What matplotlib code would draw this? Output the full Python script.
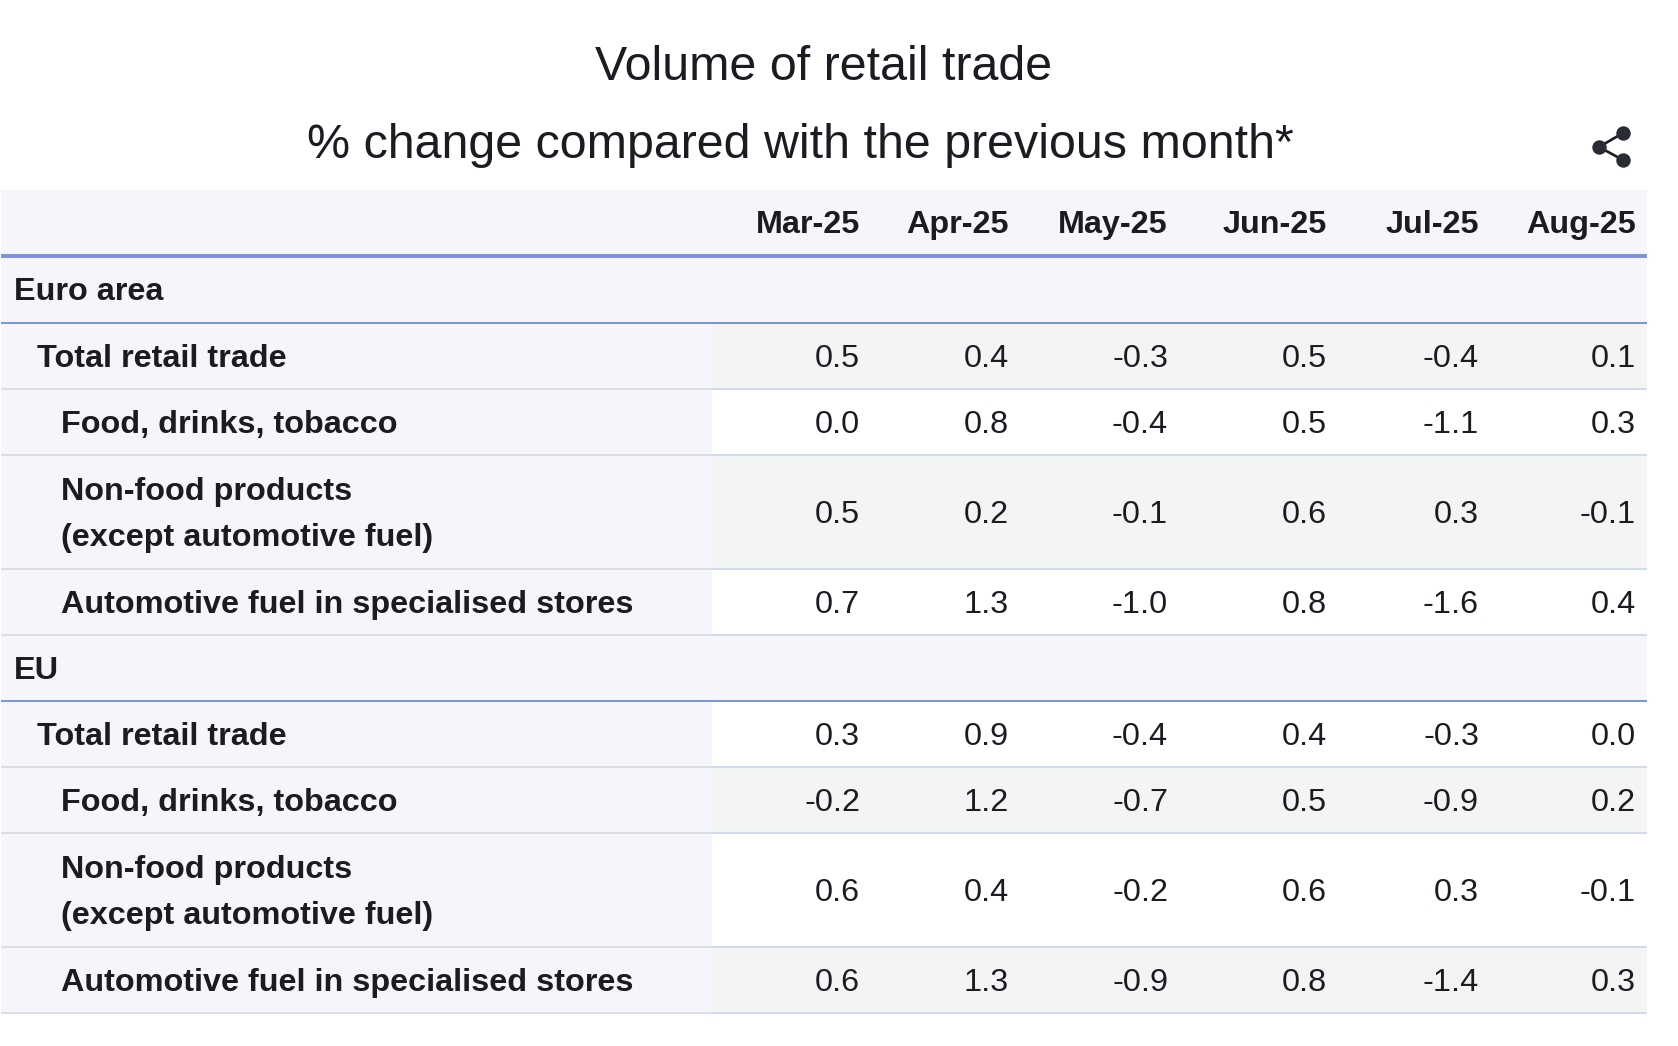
import matplotlib
matplotlib.use("Agg")
import matplotlib.pyplot as plt
from matplotlib.patches import Rectangle

# table content
months = ["Mar-25", "Apr-25", "May-25", "Jun-25", "Jul-25", "Aug-25"]
row_labels = [
    "Euro area",
    "Total retail trade",
    "Food, drinks, tobacco",
    "Non-food products\n(except automotive fuel)",
    "Automotive fuel in specialised stores",
    "EU",
    "Total retail trade",
    "Food, drinks, tobacco",
    "Non-food products\n(except automotive fuel)",
    "Automotive fuel in specialised stores",
]
mar_25 = ["", "0.5", "0.0", "0.5", "0.7", "", "0.3", "-0.2", "0.6", "0.6"]
apr_25 = ["", "0.4", "0.8", "0.2", "1.3", "", "0.9", "1.2", "0.4", "1.3"]
may_25 = ["", "-0.3", "-0.4", "-0.1", "-1.0", "", "-0.4", "-0.7", "-0.2", "-0.9"]
jun_25 = ["", "0.5", "0.5", "0.6", "0.8", "", "0.4", "0.5", "0.6", "0.8"]
jul_25 = ["", "-0.4", "-1.1", "0.3", "-1.6", "", "-0.3", "-0.9", "0.3", "-1.4"]
aug_25 = ["", "0.1", "0.3", "-0.1", "0.4", "", "0.0", "0.2", "-0.1", "0.3"]
values = [mar_25, apr_25, may_25, jun_25, jul_25, aug_25]

# layout in pixels
W, H = 1678, 1046
left, right, split = 1, 1647, 712
header_top, header_bottom = 190, 256
row_edges = [256, 323, 389, 455, 569, 635, 701, 767, 833, 947, 1013]
indent = [14, 37, 61, 61, 61, 14, 37, 61, 61, 61]
col_right = [860, 1009, 1168, 1327, 1479, 1636]
shaded = [False, True, False, True, False, False, False, True, False, True]

INK = "#1a1c22"
PANEL = "#f4f6fb"
STRIPE = "#f3f5f5"
BLUE = "#7a94db"
GREY = "#dcdddf"
LAVENDER = "#d0d9f1"
BODY = 23.3

plt.rcParams["font.family"] = ["Liberation Sans", "DejaVu Sans"]

fig = plt.figure(figsize=(W / 100, H / 100), dpi=100)
ax = fig.add_axes([0, 0, 1, 1])
ax.set_xlim(0, W)
ax.set_ylim(H, 0)
ax.axis("off")

ax.text(824, 67, "Volume of retail trade", ha="center", va="center", fontsize=34.8, color=INK)
ax.text(800, 145, "% change compared with the previous month*", ha="center", va="center", fontsize=34.8, color=INK)

# share icon
hub, top, bot = (1599, 147), (1623, 133), (1623, 160)
ax.plot([top[0], hub[0], bot[0]], [top[1], hub[1], bot[1]], color=INK, lw=1.9)
ax.scatter([hub[0], top[0], bot[0]], [hub[1], top[1], bot[1]], s=108, color="#2a2c33", lw=0, zorder=3)

# header
ax.add_patch(Rectangle((left, header_top), right - left, header_bottom - header_top, color=PANEL, lw=0))
for m, x in zip(months, col_right):
    ax.text(x, 225, m, ha="right", va="center", fontsize=BODY, fontweight="bold", color=INK)

# rows
for i, label in enumerate(row_labels):
    y0, y1 = row_edges[i], row_edges[i + 1]
    section = indent[i] == 14
    ax.add_patch(Rectangle((left, y0), right - left, y1 - y0, color="white", lw=0))
    ax.add_patch(Rectangle((left, y0), (right if section else split) - left, y1 - y0, color=PANEL, lw=0))
    if shaded[i]:
        ax.add_patch(Rectangle((split, y0), right - split, y1 - y0, color=STRIPE, lw=0))
    ax.text(indent[i], (y0 + y1) / 2 + 3, label, ha="left", va="center", fontsize=BODY, fontweight="bold",
            color=INK, linespacing=1.72)
    for col, x in zip(values, col_right):
        ax.text(x, (y0 + y1) / 2 + 3, col[i], ha="right", va="center", fontsize=BODY, color=INK)
    if section:
        ax.plot([left, right], [y1, y1], color=BLUE, lw=1.4, solid_capstyle="butt")
    else:
        ax.plot([left, split], [y1, y1], color=GREY, lw=1.4, solid_capstyle="butt")
        ax.plot([split, right], [y1, y1], color=LAVENDER, lw=1.4, solid_capstyle="butt")

ax.plot([left, right], [header_bottom, header_bottom], color=BLUE, lw=2.9, solid_capstyle="butt")

fig.savefig("out.png", dpi=100)
